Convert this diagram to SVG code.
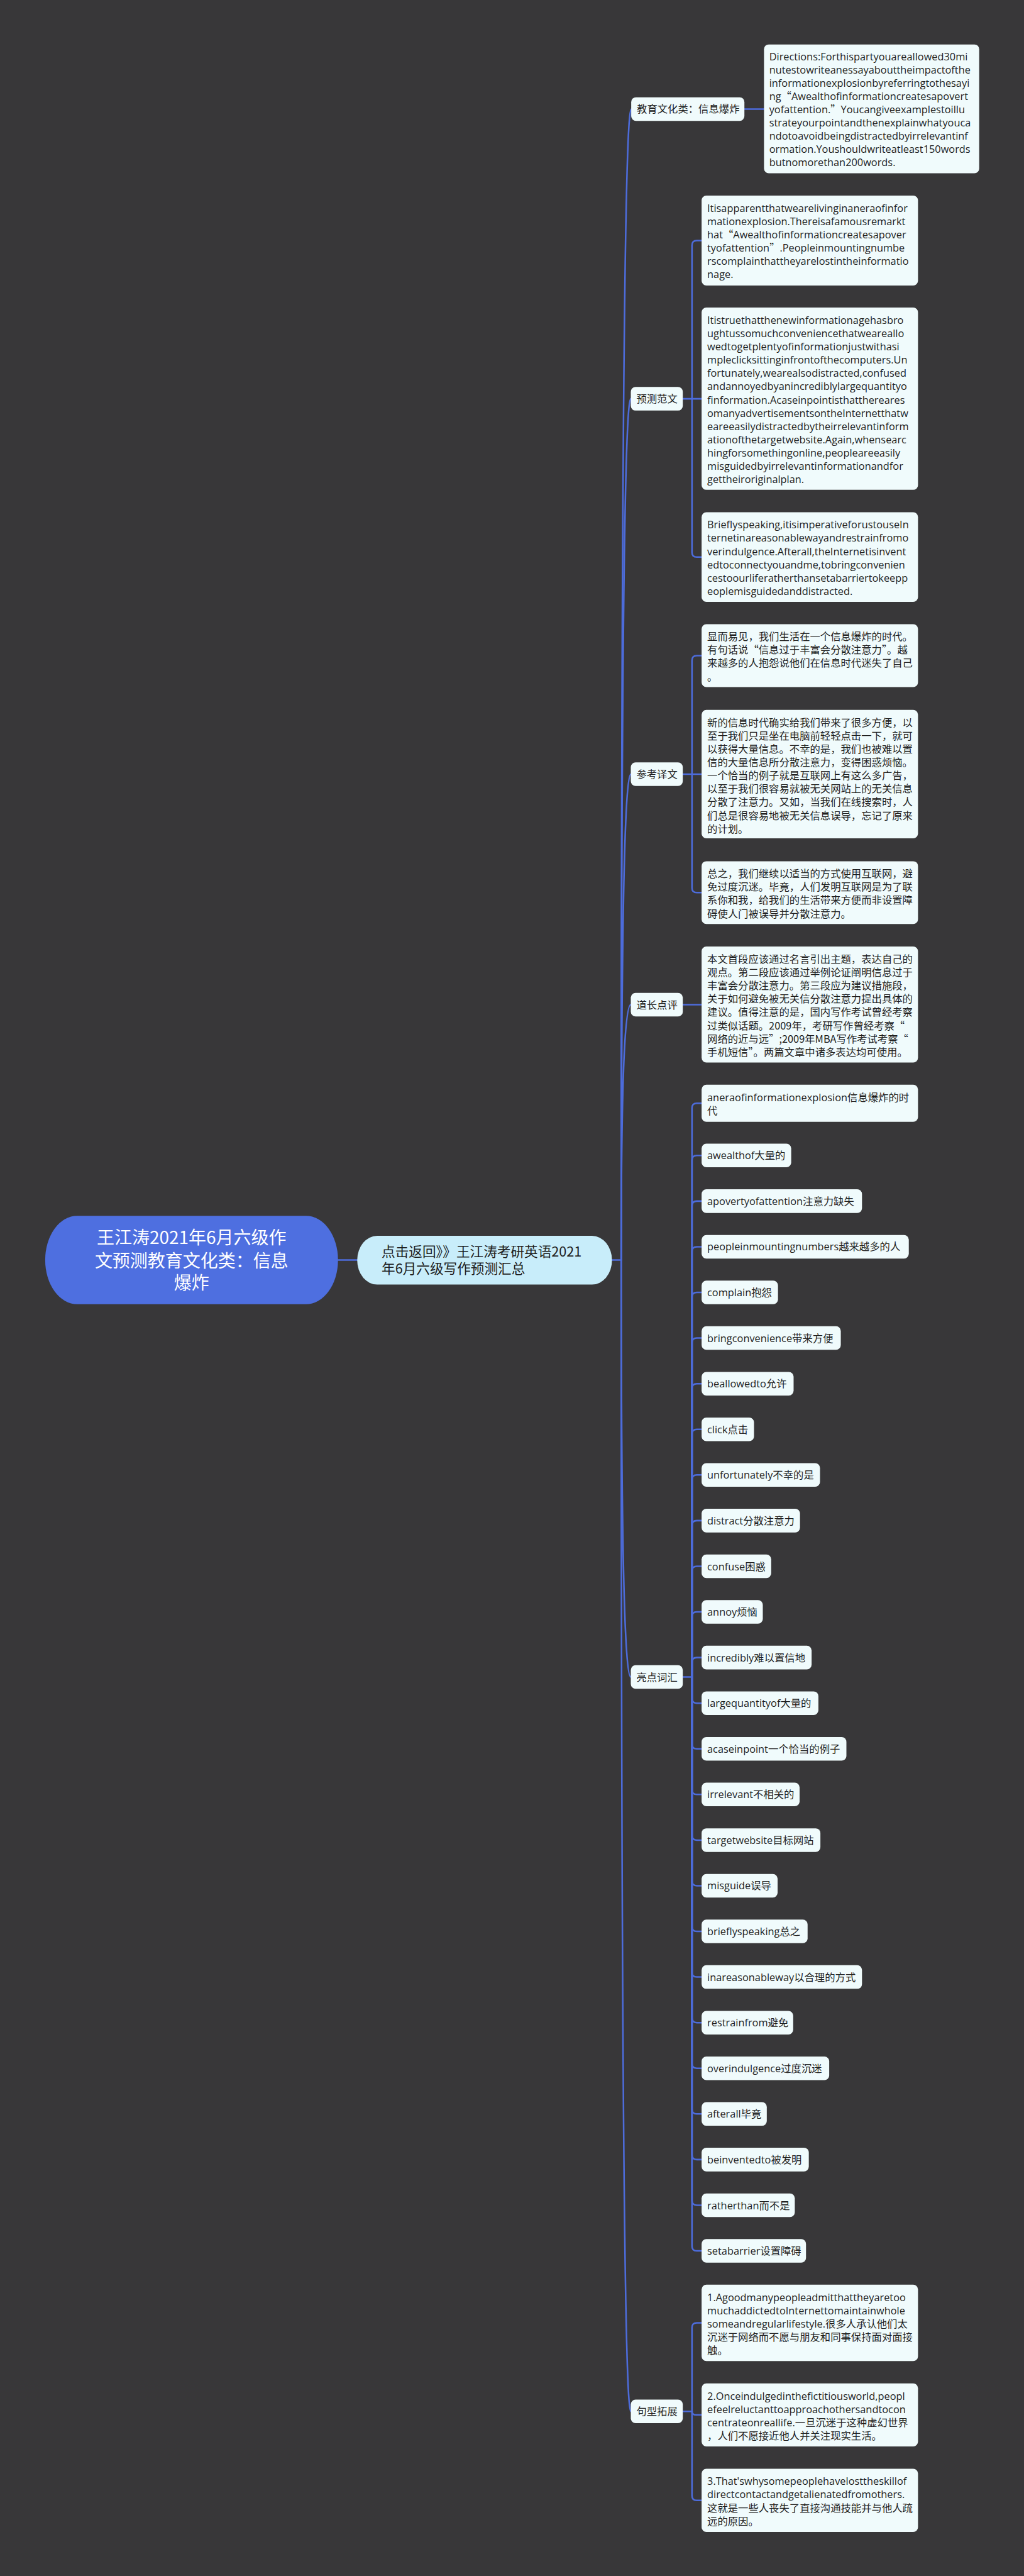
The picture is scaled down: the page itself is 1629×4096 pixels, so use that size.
<svg xmlns="http://www.w3.org/2000/svg" width="1629" height="4096" viewBox="0 0 1629 4096">
<defs>
<style>
.bg{fill:#383739}
.box{fill:#f0fbfc}
.t{font-family:"Open Sans","Noto Sans CJK SC",sans-serif;font-size:25.7px;fill:#1e1e1e}
.c{font-family:"Noto Sans CJK SC","Open Sans",sans-serif;font-size:25.7px;fill:#1e1e1e}
.q{font-family:"Noto Sans CJK SC",sans-serif}
.ln{fill:none;stroke:#4d6cdb;stroke-width:4;stroke-linecap:round;stroke-linejoin:round}
.root{fill:#4e6fe0}
.rt{font-family:"Noto Sans CJK SC",sans-serif;font-size:44px;fill:#ffffff;text-anchor:middle}
.mid{fill:#c8edfa}
.mt{font-family:"Noto Sans CJK SC",sans-serif;font-size:34px;fill:#1e1e1e}
</style>
</defs>
<rect class="bg" x="0" y="0" width="1629" height="4096"/>
<g transform="scale(0.63633)">
<g id="connectors">
<path class="ln" d="M845 3148.5H893"/>
<path class="ln" d="M1530 3148.5H1553"/>
<path class="ln" d="M1553 3148.5Q1553 272.5 1578 272.5"/>
<path class="ln" d="M1553 3148.5Q1553 996.5 1577 996.5"/>
<path class="ln" d="M1553 3148.5Q1553 1934.5 1577 1934.5"/>
<path class="ln" d="M1553 3148.5Q1553 2510.5 1577 2510.5"/>
<path class="ln" d="M1553 3148.5Q1553 4190.5 1577 4190.5"/>
<path class="ln" d="M1553 3148.5Q1553 6025.5 1577 6025.5"/>
<path class="ln" d="M1861 272.5H1910"/>
<path class="ln" d="M1707 996.5H1754"/>
<path class="ln" d="M1730 996.5V613.1Q1730 601.1 1742 601.1H1754"/>
<path class="ln" d="M1730 996.5V1380Q1730 1392 1742 1392H1754"/>
<path class="ln" d="M1707 1934.5H1754"/>
<path class="ln" d="M1730 1934.5V1650.3Q1730 1638.3 1742 1638.3H1754"/>
<path class="ln" d="M1730 1934.5V2218.5Q1730 2230.5 1742 2230.5H1754"/>
<path class="ln" d="M1707 2510.5H1754"/>
<path class="ln" d="M1707 4190.5H1730"/>
<path class="ln" d="M1730 4190.5V2768.8Q1730 2756.8 1742 2756.8H1754"/>
<path class="ln" d="M1730 4190.5V2899.3Q1730 2887.3 1742 2887.3H1754"/>
<path class="ln" d="M1730 4190.5V3013.4Q1730 3001.4 1742 3001.4H1754"/>
<path class="ln" d="M1730 4190.5V3127.4Q1730 3115.4 1742 3115.4H1754"/>
<path class="ln" d="M1730 4190.5V3241.5Q1730 3229.5 1742 3229.5H1754"/>
<path class="ln" d="M1730 4190.5V3355.5Q1730 3343.5 1742 3343.5H1754"/>
<path class="ln" d="M1730 4190.5V3469.6Q1730 3457.6 1742 3457.6H1754"/>
<path class="ln" d="M1730 4190.5V3583.6Q1730 3571.6 1742 3571.6H1754"/>
<path class="ln" d="M1730 4190.5V3697.7Q1730 3685.7 1742 3685.7H1754"/>
<path class="ln" d="M1730 4190.5V3811.7Q1730 3799.7 1742 3799.7H1754"/>
<path class="ln" d="M1730 4190.5V3925.8Q1730 3913.8 1742 3913.8H1754"/>
<path class="ln" d="M1730 4190.5V4039.8Q1730 4027.8 1742 4027.8H1754"/>
<path class="ln" d="M1730 4190.5V4153.9Q1730 4141.9 1742 4141.9H1754"/>
<path class="ln" d="M1730 4190.5V4243.9Q1730 4255.9 1742 4255.9H1754"/>
<path class="ln" d="M1730 4190.5V4358Q1730 4370 1742 4370H1754"/>
<path class="ln" d="M1730 4190.5V4472Q1730 4484 1742 4484H1754"/>
<path class="ln" d="M1730 4190.5V4586.1Q1730 4598.1 1742 4598.1H1754"/>
<path class="ln" d="M1730 4190.5V4700.1Q1730 4712.1 1742 4712.1H1754"/>
<path class="ln" d="M1730 4190.5V4814.2Q1730 4826.2 1742 4826.2H1754"/>
<path class="ln" d="M1730 4190.5V4928.2Q1730 4940.2 1742 4940.2H1754"/>
<path class="ln" d="M1730 4190.5V5042.3Q1730 5054.3 1742 5054.3H1754"/>
<path class="ln" d="M1730 4190.5V5156.3Q1730 5168.3 1742 5168.3H1754"/>
<path class="ln" d="M1730 4190.5V5270.4Q1730 5282.4 1742 5282.4H1754"/>
<path class="ln" d="M1730 4190.5V5384.4Q1730 5396.4 1742 5396.4H1754"/>
<path class="ln" d="M1730 4190.5V5498.5Q1730 5510.5 1742 5510.5H1754"/>
<path class="ln" d="M1730 4190.5V5612.5Q1730 5624.5 1742 5624.5H1754"/>
<path class="ln" d="M1707 6025.5H1730"/>
<path class="ln" d="M1730 6025.5V5816.5Q1730 5804.5 1742 5804.5H1754"/>
<path class="ln" d="M1730 6025.5C1730 6031 1733 6034.3 1740 6034.3H1754"/>
<path class="ln" d="M1730 6025.5V6236Q1730 6248 1742 6248H1754"/>
</g>

<g id="root">
<rect class="root" x="113" y="3038" width="732" height="221" rx="80" ry="110"/>
<text class="rt" x="479" y="3109">王江涛2021年6月六级作</text>
<text class="rt" x="479" y="3166">文预测教育文化类：信息</text>
<text class="rt" x="479" y="3222">爆炸</text>
</g>

<g id="center">
<rect class="mid" x="893" y="3088" width="637" height="122" rx="50" ry="61"/>
<text class="mt" x="954" y="3140">点击返回》》王江涛考研英语2021</text>
<text class="mt" x="954" y="3183">年6月六级写作预测汇总</text>
</g>

<g id="cat-jiaoyu">
<rect class="box" x="1578" y="243" width="283" height="59" rx="12"/>
<text class="c" x="1592" y="282">教育文化类：信息爆炸</text>
</g>
<g id="directions">
<rect class="box" x="1910" y="111" width="538" height="322" rx="12"/>
<text class="t" x="1923" y="150.5">Directions:Forthispartyouareallowed30mi</text>
<text class="t" x="1923" y="183.6">nutestowriteanessayabouttheimpactofthe</text>
<text class="t" x="1923" y="216.7">informationexplosionbyreferringtothesayi</text>
<text class="t" x="1923" y="249.8">ng<tspan class="q">“</tspan>Awealthofinformationcreatesapovert</text>
<text class="t" x="1923" y="282.9">yofattention.<tspan class="q">”</tspan>Youcangiveexamplestoillu</text>
<text class="t" x="1923" y="316">strateyourpointandthenexplainwhatyouca</text>
<text class="t" x="1923" y="349.1">ndotoavoidbeingdistractedbyirrelevantinf</text>
<text class="t" x="1923" y="382.2">ormation.Youshouldwriteatleast150words</text>
<text class="t" x="1923" y="415.3">butnomorethan200words.</text>
</g>

<g id="cat-yuce">
<rect class="box" x="1577" y="967" width="130" height="59" rx="12"/>
<text class="c" x="1591" y="1006">预测范文</text>
</g>
<g id="yuce-1">
<rect class="box" x="1754" y="488.6" width="541" height="225" rx="12"/>
<text class="t" x="1768" y="529.1">Itisapparentthatwearelivinginaneraofinfor</text>
<text class="t" x="1768" y="562.3">mationexplosion.Thereisafamousremarkt</text>
<text class="t" x="1768" y="595.5">hat<tspan class="q">“</tspan>Awealthofinformationcreatesapover</text>
<text class="t" x="1768" y="628.7">tyofattention<tspan class="q">”</tspan>.Peopleinmountingnumbe</text>
<text class="t" x="1768" y="661.9">rscomplainthattheyarelostintheinformatio</text>
<text class="t" x="1768" y="695.1">nage.</text>
</g>
<g id="yuce-2">
<rect class="box" x="1754" y="768.6" width="541" height="455.4" rx="12"/>
<text class="t" x="1768" y="809.1">Itistruethatthenewinformationagehasbro</text>
<text class="t" x="1768" y="842.3">ughtussomuchconveniencethatweareallo</text>
<text class="t" x="1768" y="875.5">wedtogetplentyofinformationjustwithasi</text>
<text class="t" x="1768" y="908.7">mpleclicksittinginfrontofthecomputers.Un</text>
<text class="t" x="1768" y="941.9">fortunately,wearealsodistracted,confused</text>
<text class="t" x="1768" y="975.1">andannoyedbyanincrediblylargequantityo</text>
<text class="t" x="1768" y="1008.3">finformation.Acaseinpointisthatthereares</text>
<text class="t" x="1768" y="1041.5">omanyadvertisementsontheInternetthatw</text>
<text class="t" x="1768" y="1074.7">eareeasilydistractedbytheirrelevantinform</text>
<text class="t" x="1768" y="1107.9">ationofthetargetwebsite.Again,whensearc</text>
<text class="t" x="1768" y="1141.1">hingforsomethingonline,peopleareeasily</text>
<text class="t" x="1768" y="1174.3">misguidedbyirrelevantinformationandfor</text>
<text class="t" x="1768" y="1207.5">gettheiroriginalplan.</text>
</g>
<g id="yuce-3">
<rect class="box" x="1754" y="1280" width="541" height="224" rx="12"/>
<text class="t" x="1768" y="1320.5">Brieflyspeaking,itisimperativeforustouseIn</text>
<text class="t" x="1768" y="1353.7">ternetinareasonablewayandrestrainfromo</text>
<text class="t" x="1768" y="1386.9">verindulgence.Afterall,theInternetisinvent</text>
<text class="t" x="1768" y="1420.1">edtoconnectyouandme,tobringconvenien</text>
<text class="t" x="1768" y="1453.3">cestoourliferatherthansetabarriertokeepp</text>
<text class="t" x="1768" y="1486.5">eoplemisguidedanddistracted.</text>
</g>

<g id="cat-yiwen">
<rect class="box" x="1577" y="1905" width="130" height="59" rx="12"/>
<text class="c" x="1591" y="1944">参考译文</text>
</g>
<g id="yiwen-1">
<rect class="box" x="1754" y="1559.6" width="541" height="157.4" rx="12"/>
<text class="c" x="1768" y="1600.1">显而易见，我们生活在一个信息爆炸的时代。</text>
<text class="c" x="1768" y="1633.3">有句话说“信息过于丰富会分散注意力”。越</text>
<text class="c" x="1768" y="1666.5">来越多的人抱怨说他们在信息时代迷失了自己</text>
<text class="c" x="1768" y="1699.7">。</text>
</g>
<g id="yiwen-2">
<rect class="box" x="1754" y="1774" width="541" height="321" rx="12"/>
<text class="c" x="1768" y="1814.5">新的信息时代确实给我们带来了很多方便，以</text>
<text class="c" x="1768" y="1847.7">至于我们只是坐在电脑前轻轻点击一下，就可</text>
<text class="c" x="1768" y="1880.9">以获得大量信息。不幸的是，我们也被难以置</text>
<text class="c" x="1768" y="1914.1">信的大量信息所分散注意力，变得困惑烦恼。</text>
<text class="c" x="1768" y="1947.3">一个恰当的例子就是互联网上有这么多广告，</text>
<text class="c" x="1768" y="1980.5">以至于我们很容易就被无关网站上的无关信息</text>
<text class="c" x="1768" y="2013.7">分散了注意力。又如，当我们在线搜索时，人</text>
<text class="c" x="1768" y="2046.9">们总是很容易地被无关信息误导，忘记了原来</text>
<text class="c" x="1768" y="2080.1">的计划。</text>
</g>
<g id="yiwen-3">
<rect class="box" x="1754" y="2152" width="541" height="157" rx="12"/>
<text class="c" x="1768" y="2192.5">总之，我们继续以适当的方式使用互联网，避</text>
<text class="c" x="1768" y="2225.7">免过度沉迷。毕竟，人们发明互联网是为了联</text>
<text class="c" x="1768" y="2258.9">系你和我，给我们的生活带来方便而非设置障</text>
<text class="c" x="1768" y="2292.1">碍使人门被误导并分散注意力。</text>
</g>

<g id="cat-dianping">
<rect class="box" x="1577" y="2481" width="130" height="59" rx="12"/>
<text class="c" x="1591" y="2520">道长点评</text>
</g>
<g id="dianping-1">
<rect class="box" x="1754" y="2365" width="541" height="290" rx="12"/>
<text class="c" x="1768" y="2405.5">本文首段应该通过名言引出主题，表达自己的</text>
<text class="c" x="1768" y="2438.8">观点。第二段应该通过举例论证阐明信息过于</text>
<text class="c" x="1768" y="2472.1">丰富会分散注意力。第三段应为建议措施段，</text>
<text class="c" x="1768" y="2505.4">关于如何避免被无关信分散注意力提出具体的</text>
<text class="c" x="1768" y="2538.7">建议。值得注意的是，国内写作考试曾经考察</text>
<text class="c" x="1768" y="2572">过类似话题。2009年，考研写作曾经考察“</text>
<text class="c" x="1768" y="2605.3">网络的近与远”;2009年MBA写作考试考察“</text>
<text class="c" x="1768" y="2638.6">手机短信”。两篇文章中诸多表达均可使用。</text>
</g>

<g id="cat-cihui">
<rect class="box" x="1577" y="4161" width="130" height="59" rx="12"/>
<text class="c" x="1591" y="4200">亮点词汇</text>
</g>
<g id="ch01"><rect class="box" x="1754" y="2710.5" width="541" height="92.5" rx="12"/><text class="t" x="1768" y="2751">aneraofinformationexplosion信息爆炸的时</text><text class="t" x="1768" y="2784.2">代</text></g>
<g id="ch02"><rect class="box" x="1754" y="2857.8" width="224" height="59" rx="12"/><text class="t" x="1768" y="2896.8">awealthof大量的</text></g>
<g id="ch03"><rect class="box" x="1754" y="2971.9" width="401" height="59" rx="12"/><text class="t" x="1768" y="3010.9">apovertyofattention注意力缺失</text></g>
<g id="ch04"><rect class="box" x="1754" y="3085.9" width="518" height="59" rx="12"/><text class="t" x="1768" y="3124.9">peopleinmountingnumbers越来越多的人</text></g>
<g id="ch05"><rect class="box" x="1754" y="3200" width="191" height="59" rx="12"/><text class="t" x="1768" y="3239">complain抱怨</text></g>
<g id="ch06"><rect class="box" x="1754" y="3314" width="348" height="59" rx="12"/><text class="t" x="1768" y="3353">bringconvenience带来方便</text></g>
<g id="ch07"><rect class="box" x="1754" y="3428.1" width="230" height="59" rx="12"/><text class="t" x="1768" y="3467.1">beallowedto允许</text></g>
<g id="ch08"><rect class="box" x="1754" y="3542.1" width="131" height="59" rx="12"/><text class="t" x="1768" y="3581.1">click点击</text></g>
<g id="ch09"><rect class="box" x="1754" y="3656.2" width="296" height="59" rx="12"/><text class="t" x="1768" y="3695.2">unfortunately不幸的是</text></g>
<g id="ch10"><rect class="box" x="1754" y="3770.2" width="246" height="59" rx="12"/><text class="t" x="1768" y="3809.2">distract分散注意力</text></g>
<g id="ch11"><rect class="box" x="1754" y="3884.3" width="174" height="59" rx="12"/><text class="t" x="1768" y="3923.3">confuse困惑</text></g>
<g id="ch12"><rect class="box" x="1754" y="3998.3" width="153" height="59" rx="12"/><text class="t" x="1768" y="4037.3">annoy烦恼</text></g>
<g id="ch13"><rect class="box" x="1754" y="4112.4" width="275" height="59" rx="12"/><text class="t" x="1768" y="4151.4">incredibly难以置信地</text></g>
<g id="ch14"><rect class="box" x="1754" y="4226.4" width="292" height="59" rx="12"/><text class="t" x="1768" y="4265.4">largequantityof大量的</text></g>
<g id="ch15"><rect class="box" x="1754" y="4340.5" width="362" height="59" rx="12"/><text class="t" x="1768" y="4379.5">acaseinpoint一个恰当的例子</text></g>
<g id="ch16"><rect class="box" x="1754" y="4454.5" width="245" height="59" rx="12"/><text class="t" x="1768" y="4493.5">irrelevant不相关的</text></g>
<g id="ch17"><rect class="box" x="1754" y="4568.6" width="297" height="59" rx="12"/><text class="t" x="1768" y="4607.6">targetwebsite目标网站</text></g>
<g id="ch18"><rect class="box" x="1754" y="4682.6" width="190" height="59" rx="12"/><text class="t" x="1768" y="4721.6">misguide误导</text></g>
<g id="ch19"><rect class="box" x="1754" y="4796.7" width="265" height="59" rx="12"/><text class="t" x="1768" y="4835.7">brieflyspeaking总之</text></g>
<g id="ch20"><rect class="box" x="1754" y="4910.7" width="401" height="59" rx="12"/><text class="t" x="1768" y="4949.7">inareasonableway以合理的方式</text></g>
<g id="ch21"><rect class="box" x="1754" y="5024.8" width="229" height="59" rx="12"/><text class="t" x="1768" y="5063.8">restrainfrom避免</text></g>
<g id="ch22"><rect class="box" x="1754" y="5138.8" width="319" height="59" rx="12"/><text class="t" x="1768" y="5177.8">overindulgence过度沉迷</text></g>
<g id="ch23"><rect class="box" x="1754" y="5252.9" width="163" height="59" rx="12"/><text class="t" x="1768" y="5291.9">afterall毕竟</text></g>
<g id="ch24"><rect class="box" x="1754" y="5366.9" width="268" height="59" rx="12"/><text class="t" x="1768" y="5405.9">beinventedto被发明</text></g>
<g id="ch25"><rect class="box" x="1754" y="5481" width="233" height="59" rx="12"/><text class="t" x="1768" y="5520">ratherthan而不是</text></g>
<g id="ch26"><rect class="box" x="1754" y="5595" width="261" height="59" rx="12"/><text class="t" x="1768" y="5634">setabarrier设置障碍</text></g>

<g id="cat-juxing">
<rect class="box" x="1577" y="5996" width="130" height="59" rx="12"/>
<text class="c" x="1591" y="6035">句型拓展</text>
</g>
<g id="juxing-1">
<rect class="box" x="1754" y="5709" width="541" height="191" rx="12"/>
<text class="t" x="1768" y="5749.5">1.Agoodmanypeopleadmitthattheyaretoo</text>
<text class="t" x="1768" y="5782.7">muchaddictedtoInternettomaintainwhole</text>
<text class="t" x="1768" y="5815.9">someandregularlifestyle.很多人承认他们太</text>
<text class="t" x="1768" y="5849.1">沉迷于网络而不愿与朋友和同事保持面对面接</text>
<text class="t" x="1768" y="5882.3">触。</text>
</g>
<g id="juxing-2">
<rect class="box" x="1754" y="5955.7" width="541" height="157.3" rx="12"/>
<text class="t" x="1768" y="5996.2">2.Onceindulgedinthefictitiousworld,peopl</text>
<text class="t" x="1768" y="6029.4">efeelreluctanttoapproachothersandtocon</text>
<text class="t" x="1768" y="6062.6">centrateonreallife.一旦沉迷于这种虚幻世界</text>
<text class="t" x="1768" y="6095.8">，人们不愿接近他人并关注现实生活。</text>
</g>
<g id="juxing-3">
<rect class="box" x="1754" y="6169" width="541" height="158" rx="12"/>
<text class="t" x="1768" y="6209.5">3.That'swhysomepeoplehavelosttheskillof</text>
<text class="t" x="1768" y="6242.7">directcontactandgetalienatedfromothers.</text>
<text class="t" x="1768" y="6275.9">这就是一些人丧失了直接沟通技能并与他人疏</text>
<text class="t" x="1768" y="6309.1">远的原因。</text>
</g>
</g>
</svg>
